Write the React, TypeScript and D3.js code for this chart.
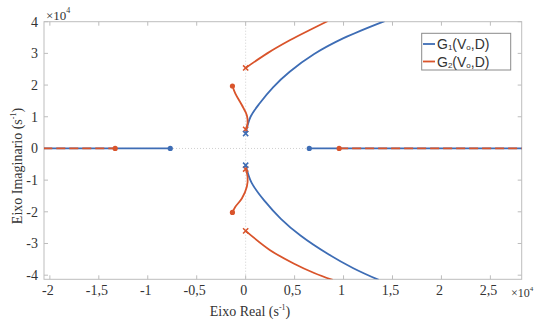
import React, { useRef, useEffect } from "react";
import * as d3 from "d3";

// cores
const blue = "#3E6DB5";
const red = "#D9542B";
const axisColor = "#BDBDBD";
const textColor = "#333333";
const serif = "'Liberation Serif', 'DejaVu Serif', serif";
const sans = "'Liberation Sans', Arial, sans-serif";

// ticks (x10^4)
const xTicks = [-2, -1.5, -1, -0.5, 0, 0.5, 1, 1.5, 2, 2.5];
const xTickLabels = ["-2", "-1,5", "-1", "-0,5", "0", "0,5", "1", "1,5", "2", "2,5"];
const yTicks = [-4, -3, -2, -1, 0, 1, 2, 3, 4];

// G1 – ramos (x10^4)
const g1Upper: [number, number][] = [
  [0, 0.47], [0.05, 1.0], [0.15, 1.45], [0.28, 1.93], [0.45, 2.42],
  [0.7, 2.98], [1.0, 3.48], [1.42, 4.02]
];
const g1Lower: [number, number][] = [
  [0, -0.53], [0.06, -1.08], [0.2, -1.68], [0.36, -2.22], [0.56, -2.75],
  [0.85, -3.35], [1.1, -3.78], [1.36, -4.15]
];
const g1RealLeft: [number, number][] = [[-2.2, 0], [-0.77, 0]];
const g1RealRight: [number, number][] = [[0.65, 0], [3.0, 0]];
const g1Poles: [number, number][] = [[0, 0.47], [0, -0.53]];
const g1Zeros: [number, number][] = [[-0.77, 0], [0.65, 0]];

// G2 – ramos
const g2Upper: [number, number][] = [
  [0, 2.54], [0.22, 3.0], [0.455, 3.42], [0.65, 3.73], [0.84, 4.02]
];
const g2Lower: [number, number][] = [
  [0, -2.6], [0.25, -3.21], [0.49, -3.63], [0.7, -3.93], [0.89, -4.15]
];
const g2SmallUp: [number, number][] = [
  [0, 0.6], [0.02, 0.8], [0.012, 1.05], [-0.039, 1.37], [-0.105, 1.73], [-0.135, 1.97]
];
const g2SmallDown: [number, number][] = [
  [0, -0.65], [0.02, -0.9], [0.012, -1.21], [-0.039, -1.58], [-0.105, -1.84], [-0.135, -2.02]
];
const g2RealLeft: [number, number][] = [[-2.2, 0], [-1.333, 0]];
const g2RealRight: [number, number][] = [[0.955, 0], [3.0, 0]];
const g2Poles: [number, number][] = [[0, 2.54], [0, -2.6], [0, 0.6], [0, -0.65]];
const g2Zeros: [number, number][] = [[-0.135, 1.97], [-0.135, -2.02], [-1.333, 0], [0.955, 0]];

export default function App() {
  const ref = useRef<SVGSVGElement>(null);

  useEffect(() => {
    const width = 535;
    const height = 325;
    const left = 44, right = 521.7, top = 21.7, bottom = 279.3;

    const svg = d3.select(ref.current);
    svg.selectAll("*").remove();

    const x = d3.scaleLinear().domain([-2.06, 2.82]).range([left, right]);
    const y = d3.scaleLinear().domain([-4.13, 4]).range([bottom, top]);

    svg.append("rect").attr("width", width).attr("height", height).attr("fill", "#fff");

    svg.append("defs").append("clipPath").attr("id", "plotclip")
      .append("rect").attr("x", left).attr("y", top)
      .attr("width", right - left).attr("height", bottom - top);

    // linhas de referência pontilhadas
    svg.append("line").attr("x1", x(0)).attr("x2", x(0)).attr("y1", top).attr("y2", bottom)
      .attr("stroke", "#D0D0D0").attr("stroke-width", 1).attr("stroke-dasharray", "1,2");
    svg.append("line").attr("x1", left).attr("x2", right).attr("y1", y(0)).attr("y2", y(0))
      .attr("stroke", "#D0D0D0").attr("stroke-width", 1).attr("stroke-dasharray", "1,2");

    // ticks
    const tickLen = 4;
    const ticks = svg.append("g").attr("stroke", axisColor).attr("stroke-width", 1);
    xTicks.forEach(t => {
      ticks.append("line").attr("x1", x(t)).attr("x2", x(t)).attr("y1", bottom).attr("y2", bottom - tickLen);
      ticks.append("line").attr("x1", x(t)).attr("x2", x(t)).attr("y1", top).attr("y2", top + tickLen);
    });
    yTicks.forEach(t => {
      ticks.append("line").attr("x1", left).attr("x2", left + tickLen).attr("y1", y(t)).attr("y2", y(t));
      ticks.append("line").attr("x1", right).attr("x2", right - tickLen).attr("y1", y(t)).attr("y2", y(t));
    });

    // caixa
    svg.append("rect").attr("x", left).attr("y", top)
      .attr("width", right - left).attr("height", bottom - top)
      .attr("fill", "none").attr("stroke", axisColor).attr("stroke-width", 1);

    // rótulos dos ticks
    svg.append("g").selectAll("text").data(xTicks).join("text")
      .attr("x", d => x(d) - 2).attr("y", bottom + 16)
      .attr("text-anchor", "middle").attr("font-family", serif).attr("font-size", 14)
      .attr("fill", textColor)
      .text((d, i) => xTickLabels[i]);
    svg.append("g").selectAll("text").data(yTicks).join("text")
      .attr("x", left - 6).attr("y", d => y(d) + 5)
      .attr("text-anchor", "end").attr("font-family", serif).attr("font-size", 14)
      .attr("fill", textColor)
      .text(d => String(d));

    // x10^4
    const e1 = svg.append("text").attr("x", 46).attr("y", 20)
      .attr("font-family", serif).attr("font-size", 13).attr("fill", textColor);
    e1.append("tspan").text("×10");
    e1.append("tspan").attr("dy", -7).attr("font-size", 8).text("4");
    const e2 = svg.append("text").attr("x", 511).attr("y", 297)
      .attr("font-family", serif).attr("font-size", 12).attr("fill", textColor);
    e2.append("tspan").text("×10");
    e2.append("tspan").attr("dy", -6).attr("font-size", 7).text("4");

    // títulos dos eixos
    const xl = svg.append("text").attr("x", 250).attr("y", 316)
      .attr("text-anchor", "middle").attr("font-family", serif).attr("font-size", 14)
      .attr("fill", textColor);
    xl.append("tspan").text("Eixo Real (s");
    xl.append("tspan").attr("dy", -6).attr("font-size", 8).text("-1");
    xl.append("tspan").attr("dy", 6).text(")");

    const yl = svg.append("text")
      .attr("transform", "translate(22,166) rotate(-90)")
      .attr("text-anchor", "middle").attr("font-family", serif).attr("font-size", 14)
      .attr("fill", textColor);
    yl.append("tspan").text("Eixo Imaginario (s");
    yl.append("tspan").attr("dy", -6).attr("font-size", 8).text("-1");
    yl.append("tspan").attr("dy", 6).text(")");

    // curvas
    const plot = svg.append("g").attr("clip-path", "url(#plotclip)");
    const line = d3.line<[number, number]>().x(d => x(d[0])).y(d => y(d[1])).curve(d3.curveCatmullRom);

    const drawPath = (data: [number, number][], color: string, dash?: string) => {
      const p = plot.append("path").attr("d", line(data)).attr("fill", "none")
        .attr("stroke", color).attr("stroke-width", 1.8);
      if (dash) p.attr("stroke-dasharray", dash);
    };

    drawPath(g1RealLeft, blue);
    drawPath(g1RealRight, blue);
    drawPath(g2RealLeft, red, "9,4");
    drawPath(g2RealRight, red, "9,4");
    drawPath(g1Upper, blue);
    drawPath(g1Lower, blue);
    drawPath(g2Upper, red);
    drawPath(g2Lower, red);
    drawPath(g2SmallUp, red);
    drawPath(g2SmallDown, red);

    const drawZeros = (data: [number, number][], color: string) => {
      plot.append("g").selectAll("circle").data(data).join("circle")
        .attr("cx", d => x(d[0])).attr("cy", d => y(d[1])).attr("r", 2.6).attr("fill", color);
    };
    const drawPoles = (data: [number, number][], color: string) => {
      const s = 2.6;
      plot.append("g").selectAll("path").data(data).join("path")
        .attr("d", d => {
          const cx = x(d[0]), cy = y(d[1]);
          return `M${cx - s},${cy - s}L${cx + s},${cy + s}M${cx - s},${cy + s}L${cx + s},${cy - s}`;
        })
        .attr("stroke", color).attr("stroke-width", 1.5).attr("fill", "none");
    };
    drawZeros(g1Zeros, blue);
    drawZeros(g2Zeros, red);
    drawPoles(g2Poles, red);
    drawPoles(g1Poles, blue);

    // legenda
    const lg = svg.append("g");
    lg.append("rect").attr("x", 421.7).attr("y", 33.3).attr("width", 89).attr("height", 36.7)
      .attr("fill", "#fff").attr("stroke", "#8a8a8a").attr("stroke-width", 1);
    const items = [
      { sub: "1", color: blue },
      { sub: "2", color: red }
    ];
    items.forEach((it, i) => {
      const yy = 44 + i * 17.5;
      lg.append("line").attr("x1", 423).attr("x2", 435).attr("y1", yy).attr("y2", yy)
        .attr("stroke", it.color).attr("stroke-width", 1.8);
      const t = lg.append("text").attr("x", 437).attr("y", yy + 5)
        .attr("font-family", sans).attr("font-size", 14).attr("fill", textColor);
      t.append("tspan").text("G");
      t.append("tspan").attr("font-size", 8).attr("dy", 1).text(it.sub);
      t.append("tspan").attr("dy", -1).text("(V");
      t.append("tspan").attr("font-size", 8).attr("dy", 1).text("o");
      t.append("tspan").attr("dy", -1).text(",D)");
    });
  }, []);

  return (
    <svg ref={ref} width={535} height={325}
      style={{ position: "absolute", left: 0, top: 0, background: "#fff" }} />
  );
}
